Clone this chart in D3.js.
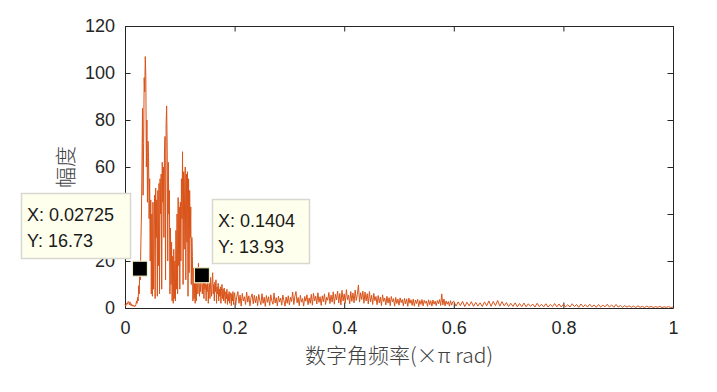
<!DOCTYPE html>
<html><head><meta charset="utf-8">
<script src="https://cdn.jsdelivr.net/npm/d3@7"></script>
<style>
html,body{margin:0;padding:0;background:#fff;}
svg{display:block;}
text{font-family:"Liberation Sans",Arial,sans-serif;}
</style></head>
<body>
<svg id="chart" width="717" height="392"></svg>
<script>
// Spectrum magnitude, 0 .. 0.199 (step 0.001)
const magA = [
1.5,0.8,1.2,2.0,1.6,2.4,2.8,2.2,1.4,2.6,
1.9,1.0,1.8,0.9,1.3,0.7,1.1,0.6,1.0,0.8,
1.5,3.0,2.0,4.5,3.0,9.5,6.0,16.73,12,28,
40,62,85,48,70,98,92,107,99,60,
80,45,71,64,38,55,20,46,6,40,
5,45,8,35,48,4,51,30,46,5,
50,18,53,6,55,40,57,8,62,45,
60,30,66,73,12,78,86,68,20,62,
40,50,6,34,10,28,3,22,2,25,
4,20,3,33,8,40,6,47,18,43,
8,45,20,55,38,66.5,10,58,25,55,
60,12,57,28,58,5,55,15,50,30,
43,10,30,22,3,17,4,14,2,12,
3,11,16,6,19,10,5,12,7,11,
13.93,6,10,12,4,11,8,13,3,10,
7,12,2,9,11,4,13,8,5,12,
15,6,10,3,11,7,12,2,9,6,
10.5,3,8,5,9,2,7,10,4,8,
3,8.5,5,2,7,4,8,1.5,6,3,
7,2,5.5,6.5,1,6,3,7,1.5,5
];
const stepA = 0.001;
// Spectrum magnitude, 0.2 .. 0.598 (step 0.002)
const magB = [
6.5,1.2,5.0,7.0,2.0,5.5,0.8,6.2,3.0,4.8,
1.5,6.8,2.5,5.2,0.9,4.5,6.0,1.8,5.4,2.2,
4.9,1.0,5.8,3.2,1.4,6.1,2.0,4.6,0.7,5.3,
2.4,4.8,1.1,5.6,3.0,1.6,6.4,2.1,4.4,0.9,
5.0,2.6,4.2,1.2,5.5,3.1,0.8,4.7,2.0,5.2,
1.3,4.6,2.8,6.8,1.5,5.0,7.0,2.2,4.5,1.0,
5.4,2.5,4.0,0.8,4.9,2.9,5.6,1.4,4.3,2.0,
5.8,1.2,6.3,3.0,5.0,1.7,6.5,2.4,4.8,1.1,
5.2,2.7,6.0,1.5,4.6,3.3,6.6,1.9,5.5,2.5,
6.9,1.6,5.9,3.4,7.2,2.1,6.2,1.3,7.5,3.0,
6.0,2.0,7.8,3.5,5.5,1.8,7.0,2.8,6.4,2.2,
7.6,3.2,5.8,9.8,2.5,6.5,3.6,7.2,2.0,6.8,
3.0,6.1,1.7,7.0,2.6,5.4,1.5,6.2,3.1,4.9,
1.4,5.3,2.2,4.6,1.0,5.6,2.8,4.2,1.3,5.0,
2.1,4.4,1.0,4.9,2.6,4.0,0.8,4.5,1.9,3.8,
1.2,4.3,2.3,3.6,0.9,4.1,1.7,3.9,0.7,4.2,
2.0,3.5,1.1,3.8,0.8,3.4,1.9,3.7,0.6,3.2,
1.5,3.6,0.9,3.3,2.0,3.0,0.7,3.5,1.4,3.1,
0.8,3.4,1.6,2.9,1.0,3.2,1.8,3.6,1.1,6.0,
1.3,3.8,0.9,3.0,1.6,2.7,0.8,3.1,1.2,2.6
];
const startB = 0.2, stepB = 0.002;
// Spectrum magnitude, 0.6 .. 1.0 (step 0.004)
const magC = [
2.9,0.8,2.6,1.0,2.8,0.6,2.5,0.9,2.7,0.7,
2.4,0.8,2.2,0.6,2.6,0.9,3.0,0.7,2.8,1.0,
3.2,0.8,2.7,0.9,2.3,0.6,2.0,0.7,2.2,0.5,
1.9,0.6,2.1,0.5,1.8,0.7,1.7,0.4,2.0,0.6,
1.6,0.5,1.8,0.4,1.5,0.6,1.9,0.5,1.7,0.4,
1.6,0.5,1.4,0.4,1.8,0.6,1.5,0.3,1.7,0.5,
1.4,0.4,1.6,0.5,1.3,0.3,1.5,0.4,1.2,0.5,
1.6,0.4,1.3,0.3,1.5,0.4,1.1,0.3,1.0,0.4,
0.9,0.3,0.8,0.2,0.9,0.3,0.7,0.2,0.8,0.3,
0.7,0.2,0.6,0.3,0.7,0.2,0.5,0.3,0.6,0.2,
0.4
];
const startC = 0.6, stepC = 0.004;
const xTicks = [0, 0.2, 0.4, 0.6, 0.8, 1];
const xTickLabels = ["0","0.2","0.4","0.6","0.8","1"];
const yTicks = [0, 20, 40, 60, 80, 100, 120];
const tipX = [0.02725, 0.1404];
const tipY = [16.73, 13.93];
const xLabel = "数字角频率(×π rad)";
const yLabel = "幅度";

const data = magA.map((v,i)=>({f:i*stepA, m:v}))
  .concat(magB.map((v,i)=>({f:startB+i*stepB, m:v})))
  .concat(magC.map((v,i)=>({f:startC+i*stepC, m:v})));

const svg = d3.select("#chart");
const L=125, R=673, T=26, B=308;
const x = d3.scaleLinear().domain([0,1]).range([L,R]);
const y = d3.scaleLinear().domain([0,120]).range([B,T]);
const axisColor="#262626";
const tl = 5.5;

// axes (box)
const gx = svg.append("g").attr("transform",`translate(0,${B})`)
  .call(d3.axisBottom(x).tickValues(xTicks).tickFormat((d,i)=>xTickLabels[i]).tickSizeInner(-tl).tickSizeOuter(0).tickPadding(13));
const gxt = svg.append("g").attr("transform",`translate(0,${T})`)
  .call(d3.axisTop(x).tickValues(xTicks).tickFormat("").tickSizeInner(-tl).tickSizeOuter(0));
const gy = svg.append("g").attr("transform",`translate(${L},0)`)
  .call(d3.axisLeft(y).tickValues(yTicks).tickSizeInner(-tl).tickSizeOuter(0).tickPadding(10));
const gyr = svg.append("g").attr("transform",`translate(${R},0)`)
  .call(d3.axisRight(y).tickValues(yTicks).tickFormat("").tickSizeInner(-tl).tickSizeOuter(0));
[gx,gxt,gy,gyr].forEach(g=>{
  g.select(".domain").attr("stroke",axisColor).attr("stroke-width",1);
  g.selectAll(".tick line").attr("stroke",axisColor).attr("stroke-width",1);
  g.selectAll(".tick text").attr("fill",axisColor).style("font-size","18px")
    .style("font-family",'"Liberation Sans",Arial,sans-serif');
});

// line
const line = d3.line().x(d=>x(d.f)).y(d=>y(d.m));
svg.append("path").datum(data).attr("d",line)
  .attr("fill","none").attr("stroke","#D95319").attr("stroke-width",1.0)
  .attr("stroke-linejoin","round");

// labels
svg.append("text").attr("x",(L+R)/2).attr("y",363).attr("text-anchor","middle")
  .attr("fill","#404040").style("font-size","21px")
  .style("font-family",'"Noto Sans CJK SC","Liberation Sans",sans-serif').style("font-weight","300")
  .text(xLabel);
svg.append("text").attr("transform",`translate(73,${(T+B)/2}) rotate(-90)`)
  .attr("text-anchor","middle").attr("fill","#404040").style("font-size","21px")
  .style("font-family",'"Noto Sans CJK SC",sans-serif').style("font-weight","300")
  .text(yLabel);

// data tips
const tipBoxes = [
  {x0:21, y0:193, w:109, h:65},
  {x0:212, y0:199, w:97, h:64}
];
tipX.forEach((tx,i)=>{
  const b = tipBoxes[i];
  const g = svg.append("g");
  g.append("rect").attr("x",b.x0+0.5).attr("y",b.y0+0.5).attr("width",b.w).attr("height",b.h)
    .attr("fill","#FFFFEE").attr("stroke","#D8D8D0").attr("stroke-width",1.5);
  g.append("text").attr("x",b.x0+6).attr("y",b.y0+28).attr("fill","#1a1a1a").style("font-size","18px")
    .text("X: "+tx);
  g.append("text").attr("x",b.x0+6).attr("y",b.y0+54).attr("fill","#1a1a1a").style("font-size","18px")
    .text("Y: "+tipY[i].toFixed(2));
  svg.append("rect").attr("x",x(tx)-7.5).attr("y",y(tipY[i])-7.5).attr("width",15).attr("height",15)
    .attr("fill","#000").attr("stroke","#F2F0C8").attr("stroke-width",1.2);
});
</script>
</body></html>
